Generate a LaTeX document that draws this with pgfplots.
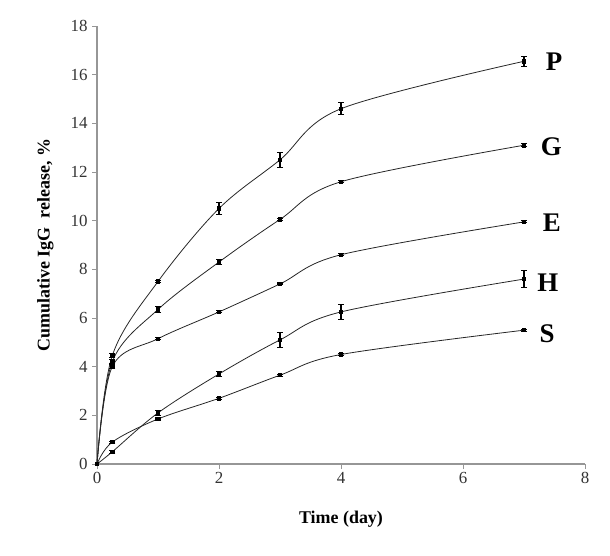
\documentclass[border=0pt]{standalone}
\usepackage{pgfplots}
\pgfplotsset{compat=1.18}
\usepackage{fontspec}
\setmainfont{Liberation Serif}
\usetikzlibrary{calc}
\definecolor{axgray}{RGB}{150,150,150}
\tikzset{ser/.style={black!85, line width=0.8pt, smooth, tension=0.55, mark=square*, mark size=1.7bp, mark options={solid, black}}}
\begin{document}
\begin{tikzpicture}[x=1bp,y=1bp]
\begin{axis}[
  scale only axis, width=488bp, height=438bp,
  xmin=0, xmax=8, ymin=0, ymax=18,
  xtick={0,2,4,6,8}, ytick={0,2,...,18},
  axis lines=left, axis line style={axgray, line width=1.2pt, -},
  tick style={axgray, line width=1pt}, tick align=outside, major tick length=5bp,
  ticklabel style={font=\fontsize{17}{19}\selectfont, text=black!80},
  yticklabel style={xshift=-1bp},
  /pgf/number format/assume math mode=true,
  xlabel={\textbf{Time (day)}}, ylabel={\textbf{Cumulative IgG\ \ release, \%}},
  label style={font=\fontsize{18}{20}\selectfont},
  xlabel style={yshift=-20bp}, ylabel style={yshift=10bp},
  clip=false,
  error bars/y dir=both, error bars/y explicit,
  error bars/error bar style={black, line width=1.1pt},
  error bars/error mark options={rotate=90, mark size=3bp, line width=1.1pt, black},
]
\addplot[ser] coordinates {(0,0) (0.25,4.45) +- (0,0.08) (1,7.5) +- (0,0.05) (2,10.5) +- (0,0.25) (3,12.5) +- (0,0.3) (4,14.6) +- (0,0.25) (7,16.55) +- (0,0.2)};
\addplot[ser] coordinates {(0,0) (0.25,4.2) +- (0,0.08) (1,6.35) +- (0,0.12) (2,8.3) +- (0,0.1) (3,10.05) +- (0,0.05) (4,11.6) +- (0,0.04) (7,13.1) +- (0,0.07)};
\addplot[ser] coordinates {(0,0) (0.25,4.0) +- (0,0.08) (1,5.15) +- (0,0.04) (2,6.25) +- (0,0.04) (3,7.4) +- (0,0.04) (4,8.6) +- (0,0.04) (7,9.95) +- (0,0.04)};
\addplot[ser] coordinates {(0,0) (0.25,0.5) +- (0,0.05) (1,2.1) +- (0,0.1) (2,3.7) +- (0,0.1) (3,5.1) +- (0,0.3) (4,6.25) +- (0,0.3) (7,7.6) +- (0,0.35)};
\addplot[ser] coordinates {(0,0) (0.25,0.9) +- (0,0.04) (1,1.85) +- (0,0.04) (2,2.7) +- (0,0.04) (3,3.65) +- (0,0.04) (4,4.5) +- (0,0.04) (7,5.5) +- (0,0.04)};
\node[font=\fontsize{27}{30}\selectfont\bfseries, anchor=west] at (axis cs:7.3,16.55) {P};
\node[font=\fontsize{27}{30}\selectfont\bfseries, anchor=west] at (axis cs:7.22,13.05) {G};
\node[font=\fontsize{27}{30}\selectfont\bfseries, anchor=west] at (axis cs:7.25,9.9) {E};
\node[font=\fontsize{27}{30}\selectfont\bfseries, anchor=west] at (axis cs:7.16,7.45) {H};
\node[font=\fontsize{27}{30}\selectfont\bfseries, anchor=west] at (axis cs:7.2,5.35) {S};
\end{axis}
\useasboundingbox ($(current axis.south west)+(-97bp,-91bp)$) rectangle ($(current axis.north east)+(25bp,26bp)$);
\end{tikzpicture}
\end{document}
